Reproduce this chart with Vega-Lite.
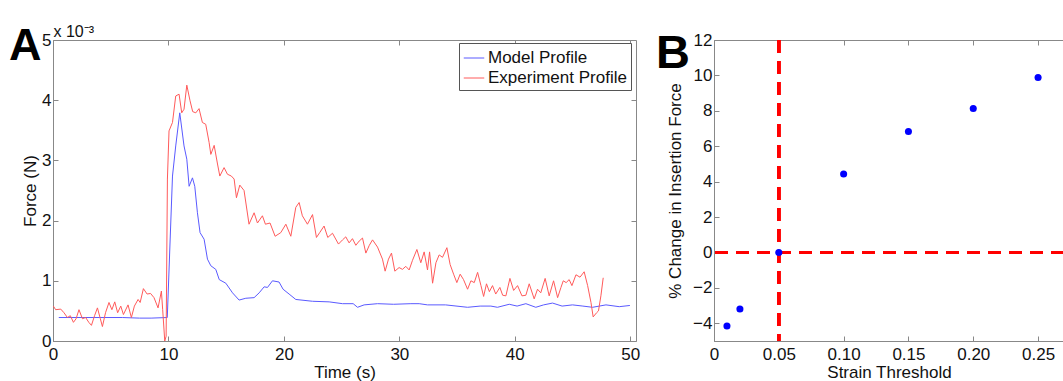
{
  "$schema": "https://vega.github.io/schema/vega-lite/v6.json",
  "background": "white",
  "padding": {"left": 8, "top": 22, "right": 0, "bottom": 0},
  "bounds": "flush",
  "spacing": 78,
  "config": {
    "font": "Liberation Sans",
    "view": {"stroke": "#888", "strokeWidth": 1},
    "axis": {
      "grid": false,
      "labelFont": "Liberation Sans",
      "labelFontSize": 17,
      "labelColor": "#111",
      "labelFlush": false,
      "labelOverlap": false,
      "titleFont": "Liberation Sans",
      "titleFontSize": 17,
      "titleFontWeight": "normal",
      "titleColor": "#111",
      "domainColor": "#888",
      "tickColor": "#888",
      "tickSize": -5
    },
    "axisX": {"labelPadding": 10},
    "axisY": {"labelPadding": 7},
    "title": {"font": "Liberation Sans", "color": "#000"}
  },
  "datasets": {
    "force": [
      {"t": 0.5, "F": 0.39, "series": "Model Profile"},
      {"t": 2, "F": 0.39, "series": "Model Profile"},
      {"t": 4, "F": 0.39, "series": "Model Profile"},
      {"t": 6, "F": 0.39, "series": "Model Profile"},
      {"t": 7.5, "F": 0.38, "series": "Model Profile"},
      {"t": 8.5, "F": 0.38, "series": "Model Profile"},
      {"t": 9.9, "F": 0.39, "series": "Model Profile"},
      {"t": 10.35, "F": 2.74, "series": "Model Profile"},
      {"t": 10.63, "F": 3.24, "series": "Model Profile"},
      {"t": 10.98, "F": 3.79, "series": "Model Profile"},
      {"t": 11.35, "F": 3.24, "series": "Model Profile"},
      {"t": 11.59, "F": 3.02, "series": "Model Profile"},
      {"t": 11.79, "F": 2.57, "series": "Model Profile"},
      {"t": 12.08, "F": 2.71, "series": "Model Profile"},
      {"t": 12.28, "F": 2.57, "series": "Model Profile"},
      {"t": 12.51, "F": 2.13, "series": "Model Profile"},
      {"t": 12.74, "F": 1.8, "series": "Model Profile"},
      {"t": 13.09, "F": 1.69, "series": "Model Profile"},
      {"t": 13.38, "F": 1.36, "series": "Model Profile"},
      {"t": 13.67, "F": 1.25, "series": "Model Profile"},
      {"t": 14.1, "F": 1.19, "series": "Model Profile"},
      {"t": 14.4, "F": 1.02, "series": "Model Profile"},
      {"t": 14.97, "F": 0.96, "series": "Model Profile"},
      {"t": 15.55, "F": 0.8, "series": "Model Profile"},
      {"t": 16.12, "F": 0.68, "series": "Model Profile"},
      {"t": 16.7, "F": 0.71, "series": "Model Profile"},
      {"t": 17.42, "F": 0.72, "series": "Model Profile"},
      {"t": 17.86, "F": 0.8, "series": "Model Profile"},
      {"t": 18.29, "F": 0.9, "series": "Model Profile"},
      {"t": 18.58, "F": 0.89, "series": "Model Profile"},
      {"t": 19.01, "F": 1.0, "series": "Model Profile"},
      {"t": 19.58, "F": 0.98, "series": "Model Profile"},
      {"t": 19.93, "F": 0.86, "series": "Model Profile"},
      {"t": 20.45, "F": 0.78, "series": "Model Profile"},
      {"t": 21.03, "F": 0.69, "series": "Model Profile"},
      {"t": 22.48, "F": 0.66, "series": "Model Profile"},
      {"t": 23.92, "F": 0.65, "series": "Model Profile"},
      {"t": 25.08, "F": 0.62, "series": "Model Profile"},
      {"t": 26.0, "F": 0.62, "series": "Model Profile"},
      {"t": 26.38, "F": 0.56, "series": "Model Profile"},
      {"t": 26.95, "F": 0.6, "series": "Model Profile"},
      {"t": 28.11, "F": 0.62, "series": "Model Profile"},
      {"t": 29.5, "F": 0.61, "series": "Model Profile"},
      {"t": 31.0, "F": 0.62, "series": "Model Profile"},
      {"t": 31.72, "F": 0.62, "series": "Model Profile"},
      {"t": 32.44, "F": 0.6, "series": "Model Profile"},
      {"t": 34.0, "F": 0.6, "series": "Model Profile"},
      {"t": 35.91, "F": 0.56, "series": "Model Profile"},
      {"t": 37.0, "F": 0.58, "series": "Model Profile"},
      {"t": 37.93, "F": 0.58, "series": "Model Profile"},
      {"t": 38.5, "F": 0.56, "series": "Model Profile"},
      {"t": 39.52, "F": 0.61, "series": "Model Profile"},
      {"t": 40.2, "F": 0.58, "series": "Model Profile"},
      {"t": 40.96, "F": 0.62, "series": "Model Profile"},
      {"t": 41.82, "F": 0.56, "series": "Model Profile"},
      {"t": 42.5, "F": 0.6, "series": "Model Profile"},
      {"t": 43.27, "F": 0.63, "series": "Model Profile"},
      {"t": 44.1, "F": 0.58, "series": "Model Profile"},
      {"t": 45.0, "F": 0.6, "series": "Model Profile"},
      {"t": 45.9, "F": 0.58, "series": "Model Profile"},
      {"t": 46.74, "F": 0.56, "series": "Model Profile"},
      {"t": 47.9, "F": 0.6, "series": "Model Profile"},
      {"t": 49.05, "F": 0.57, "series": "Model Profile"},
      {"t": 49.97, "F": 0.59, "series": "Model Profile"},

      {"t": 0.03, "F": 0.58, "series": "Experiment Profile"},
      {"t": 0.23, "F": 0.52, "series": "Experiment Profile"},
      {"t": 0.67, "F": 0.53, "series": "Experiment Profile"},
      {"t": 0.95, "F": 0.47, "series": "Experiment Profile"},
      {"t": 1.25, "F": 0.39, "series": "Experiment Profile"},
      {"t": 1.5, "F": 0.42, "series": "Experiment Profile"},
      {"t": 1.77, "F": 0.31, "series": "Experiment Profile"},
      {"t": 2.0, "F": 0.37, "series": "Experiment Profile"},
      {"t": 2.25, "F": 0.52, "series": "Experiment Profile"},
      {"t": 2.55, "F": 0.37, "series": "Experiment Profile"},
      {"t": 2.83, "F": 0.39, "series": "Experiment Profile"},
      {"t": 3.1, "F": 0.31, "series": "Experiment Profile"},
      {"t": 3.33, "F": 0.26, "series": "Experiment Profile"},
      {"t": 3.6, "F": 0.42, "series": "Experiment Profile"},
      {"t": 3.85, "F": 0.55, "series": "Experiment Profile"},
      {"t": 4.1, "F": 0.37, "series": "Experiment Profile"},
      {"t": 4.28, "F": 0.24, "series": "Experiment Profile"},
      {"t": 4.55, "F": 0.47, "series": "Experiment Profile"},
      {"t": 4.85, "F": 0.64, "series": "Experiment Profile"},
      {"t": 5.1, "F": 0.52, "series": "Experiment Profile"},
      {"t": 5.35, "F": 0.65, "series": "Experiment Profile"},
      {"t": 5.6, "F": 0.47, "series": "Experiment Profile"},
      {"t": 5.87, "F": 0.58, "series": "Experiment Profile"},
      {"t": 6.1, "F": 0.44, "series": "Experiment Profile"},
      {"t": 6.5, "F": 0.6, "series": "Experiment Profile"},
      {"t": 6.79, "F": 0.39, "series": "Experiment Profile"},
      {"t": 7.05, "F": 0.58, "series": "Experiment Profile"},
      {"t": 7.37, "F": 0.69, "series": "Experiment Profile"},
      {"t": 7.55, "F": 0.64, "series": "Experiment Profile"},
      {"t": 7.83, "F": 0.87, "series": "Experiment Profile"},
      {"t": 8.15, "F": 0.78, "series": "Experiment Profile"},
      {"t": 8.45, "F": 0.79, "series": "Experiment Profile"},
      {"t": 8.75, "F": 0.72, "series": "Experiment Profile"},
      {"t": 9.1, "F": 0.55, "series": "Experiment Profile"},
      {"t": 9.39, "F": 0.83, "series": "Experiment Profile"},
      {"t": 9.5, "F": 0.52, "series": "Experiment Profile"},
      {"t": 9.68, "F": 0.0, "series": "Experiment Profile"},
      {"t": 9.8, "F": 0.08, "series": "Experiment Profile"},
      {"t": 9.91, "F": 2.69, "series": "Experiment Profile"},
      {"t": 10.05, "F": 3.49, "series": "Experiment Profile"},
      {"t": 10.35, "F": 3.63, "series": "Experiment Profile"},
      {"t": 10.63, "F": 4.07, "series": "Experiment Profile"},
      {"t": 10.92, "F": 4.1, "series": "Experiment Profile"},
      {"t": 11.15, "F": 3.79, "series": "Experiment Profile"},
      {"t": 11.35, "F": 3.85, "series": "Experiment Profile"},
      {"t": 11.59, "F": 4.25, "series": "Experiment Profile"},
      {"t": 11.87, "F": 3.99, "series": "Experiment Profile"},
      {"t": 12.1, "F": 3.81, "series": "Experiment Profile"},
      {"t": 12.37, "F": 3.79, "series": "Experiment Profile"},
      {"t": 12.65, "F": 3.86, "series": "Experiment Profile"},
      {"t": 12.94, "F": 3.63, "series": "Experiment Profile"},
      {"t": 13.23, "F": 3.6, "series": "Experiment Profile"},
      {"t": 13.52, "F": 3.3, "series": "Experiment Profile"},
      {"t": 13.67, "F": 3.1, "series": "Experiment Profile"},
      {"t": 13.96, "F": 3.25, "series": "Experiment Profile"},
      {"t": 14.25, "F": 2.94, "series": "Experiment Profile"},
      {"t": 14.45, "F": 2.74, "series": "Experiment Profile"},
      {"t": 14.82, "F": 2.88, "series": "Experiment Profile"},
      {"t": 15.11, "F": 2.77, "series": "Experiment Profile"},
      {"t": 15.45, "F": 2.74, "series": "Experiment Profile"},
      {"t": 15.69, "F": 2.69, "series": "Experiment Profile"},
      {"t": 15.89, "F": 2.38, "series": "Experiment Profile"},
      {"t": 16.18, "F": 2.59, "series": "Experiment Profile"},
      {"t": 16.55, "F": 2.5, "series": "Experiment Profile"},
      {"t": 16.98, "F": 1.94, "series": "Experiment Profile"},
      {"t": 17.42, "F": 2.13, "series": "Experiment Profile"},
      {"t": 17.71, "F": 1.96, "series": "Experiment Profile"},
      {"t": 18.14, "F": 2.08, "series": "Experiment Profile"},
      {"t": 18.4, "F": 1.94, "series": "Experiment Profile"},
      {"t": 18.8, "F": 1.96, "series": "Experiment Profile"},
      {"t": 19.24, "F": 1.74, "series": "Experiment Profile"},
      {"t": 19.73, "F": 1.8, "series": "Experiment Profile"},
      {"t": 20.17, "F": 1.94, "series": "Experiment Profile"},
      {"t": 20.6, "F": 1.74, "series": "Experiment Profile"},
      {"t": 21.03, "F": 2.22, "series": "Experiment Profile"},
      {"t": 21.32, "F": 2.3, "series": "Experiment Profile"},
      {"t": 21.6, "F": 2.08, "series": "Experiment Profile"},
      {"t": 22.04, "F": 1.94, "series": "Experiment Profile"},
      {"t": 22.48, "F": 2.1, "series": "Experiment Profile"},
      {"t": 22.82, "F": 1.72, "series": "Experiment Profile"},
      {"t": 23.1, "F": 1.8, "series": "Experiment Profile"},
      {"t": 23.48, "F": 1.91, "series": "Experiment Profile"},
      {"t": 23.8, "F": 1.72, "series": "Experiment Profile"},
      {"t": 24.21, "F": 1.79, "series": "Experiment Profile"},
      {"t": 24.73, "F": 1.61, "series": "Experiment Profile"},
      {"t": 25.08, "F": 1.68, "series": "Experiment Profile"},
      {"t": 25.36, "F": 1.73, "series": "Experiment Profile"},
      {"t": 25.65, "F": 1.63, "series": "Experiment Profile"},
      {"t": 25.94, "F": 1.7, "series": "Experiment Profile"},
      {"t": 26.23, "F": 1.59, "series": "Experiment Profile"},
      {"t": 26.52, "F": 1.66, "series": "Experiment Profile"},
      {"t": 26.81, "F": 1.71, "series": "Experiment Profile"},
      {"t": 27.1, "F": 1.46, "series": "Experiment Profile"},
      {"t": 27.4, "F": 1.59, "series": "Experiment Profile"},
      {"t": 27.68, "F": 1.68, "series": "Experiment Profile"},
      {"t": 28.11, "F": 1.56, "series": "Experiment Profile"},
      {"t": 28.54, "F": 1.36, "series": "Experiment Profile"},
      {"t": 28.77, "F": 1.16, "series": "Experiment Profile"},
      {"t": 29.06, "F": 1.36, "series": "Experiment Profile"},
      {"t": 29.32, "F": 1.46, "series": "Experiment Profile"},
      {"t": 29.61, "F": 1.16, "series": "Experiment Profile"},
      {"t": 29.98, "F": 1.22, "series": "Experiment Profile"},
      {"t": 30.27, "F": 1.19, "series": "Experiment Profile"},
      {"t": 30.56, "F": 1.24, "series": "Experiment Profile"},
      {"t": 30.85, "F": 1.18, "series": "Experiment Profile"},
      {"t": 31.14, "F": 1.34, "series": "Experiment Profile"},
      {"t": 31.52, "F": 1.52, "series": "Experiment Profile"},
      {"t": 31.86, "F": 1.3, "series": "Experiment Profile"},
      {"t": 32.15, "F": 1.48, "series": "Experiment Profile"},
      {"t": 32.44, "F": 1.18, "series": "Experiment Profile"},
      {"t": 32.62, "F": 1.48, "series": "Experiment Profile"},
      {"t": 32.88, "F": 0.96, "series": "Experiment Profile"},
      {"t": 33.17, "F": 1.3, "series": "Experiment Profile"},
      {"t": 33.45, "F": 1.43, "series": "Experiment Profile"},
      {"t": 33.74, "F": 1.39, "series": "Experiment Profile"},
      {"t": 34.12, "F": 1.55, "series": "Experiment Profile"},
      {"t": 34.4, "F": 1.27, "series": "Experiment Profile"},
      {"t": 34.7, "F": 1.11, "series": "Experiment Profile"},
      {"t": 34.98, "F": 0.97, "series": "Experiment Profile"},
      {"t": 35.27, "F": 1.11, "series": "Experiment Profile"},
      {"t": 35.56, "F": 1.02, "series": "Experiment Profile"},
      {"t": 35.91, "F": 0.86, "series": "Experiment Profile"},
      {"t": 36.2, "F": 1.0, "series": "Experiment Profile"},
      {"t": 36.49, "F": 0.97, "series": "Experiment Profile"},
      {"t": 36.78, "F": 1.14, "series": "Experiment Profile"},
      {"t": 37.07, "F": 0.92, "series": "Experiment Profile"},
      {"t": 37.3, "F": 0.74, "series": "Experiment Profile"},
      {"t": 37.55, "F": 0.95, "series": "Experiment Profile"},
      {"t": 37.8, "F": 0.82, "series": "Experiment Profile"},
      {"t": 38.07, "F": 0.92, "series": "Experiment Profile"},
      {"t": 38.35, "F": 0.78, "series": "Experiment Profile"},
      {"t": 38.71, "F": 0.89, "series": "Experiment Profile"},
      {"t": 38.95, "F": 0.76, "series": "Experiment Profile"},
      {"t": 39.23, "F": 0.75, "series": "Experiment Profile"},
      {"t": 39.58, "F": 1.04, "series": "Experiment Profile"},
      {"t": 39.9, "F": 0.84, "series": "Experiment Profile"},
      {"t": 40.24, "F": 0.92, "series": "Experiment Profile"},
      {"t": 40.62, "F": 0.75, "series": "Experiment Profile"},
      {"t": 40.96, "F": 0.76, "series": "Experiment Profile"},
      {"t": 41.25, "F": 0.95, "series": "Experiment Profile"},
      {"t": 41.68, "F": 0.7, "series": "Experiment Profile"},
      {"t": 41.97, "F": 0.86, "series": "Experiment Profile"},
      {"t": 42.25, "F": 0.8, "series": "Experiment Profile"},
      {"t": 42.63, "F": 1.04, "series": "Experiment Profile"},
      {"t": 42.98, "F": 0.75, "series": "Experiment Profile"},
      {"t": 43.36, "F": 1.0, "series": "Experiment Profile"},
      {"t": 43.71, "F": 0.72, "series": "Experiment Profile"},
      {"t": 44.0, "F": 0.89, "series": "Experiment Profile"},
      {"t": 44.2, "F": 1.0, "series": "Experiment Profile"},
      {"t": 44.45, "F": 0.97, "series": "Experiment Profile"},
      {"t": 44.71, "F": 1.02, "series": "Experiment Profile"},
      {"t": 44.95, "F": 0.92, "series": "Experiment Profile"},
      {"t": 45.3, "F": 1.1, "series": "Experiment Profile"},
      {"t": 45.65, "F": 1.06, "series": "Experiment Profile"},
      {"t": 46.01, "F": 1.15, "series": "Experiment Profile"},
      {"t": 46.31, "F": 0.92, "series": "Experiment Profile"},
      {"t": 46.6, "F": 0.64, "series": "Experiment Profile"},
      {"t": 46.79, "F": 0.4, "series": "Experiment Profile"},
      {"t": 47.09, "F": 0.47, "series": "Experiment Profile"},
      {"t": 47.25, "F": 0.5, "series": "Experiment Profile"},
      {"t": 47.46, "F": 0.75, "series": "Experiment Profile"},
      {"t": 47.66, "F": 1.05, "series": "Experiment Profile"}
    ],
    "strain": [
      {"threshold": 0.01, "change": -4.15},
      {"threshold": 0.02, "change": -3.19},
      {"threshold": 0.05, "change": 0},
      {"threshold": 0.1, "change": 4.43},
      {"threshold": 0.15, "change": 6.83},
      {"threshold": 0.2, "change": 8.13},
      {"threshold": 0.25, "change": 9.88}
    ]
  },
  "hconcat": [
    {
      "width": 583,
      "height": 301,
      "title": {"text": "A", "anchor": "start", "frame": "group", "fontSize": 45, "fontWeight": "bold", "dx": -44, "dy": 50},
      "data": {"name": "force"},
      "layer": [
        {
          "transform": [{"filter": "datum.series === 'Model Profile'"}],
          "mark": {"type": "line", "strokeWidth": 1, "interpolate": "linear"},
          "encoding": {
            "x": {"field": "t", "type": "quantitative", "title": "Time (s)",
                  "scale": {"domain": [0, 50.5], "nice": false, "zero": false},
                  "axis": {"values": [0, 10, 20, 30, 40, 50], "titlePadding": 2}},
            "y": {"field": "F", "type": "quantitative", "title": "Force (N)",
                  "scale": {"domain": [0, 5], "nice": false},
                  "axis": {"values": [0, 1, 2, 3, 4, 5], "titlePadding": 2}},
            "color": {"field": "series", "type": "nominal",
                      "scale": {"domain": ["Model Profile", "Experiment Profile"], "range": ["#5a5aff", "#ff5a5a"]},
                      "legend": {"title": null, "orient": "none", "legendX": 406, "legendY": 3, "strokeColor": "#555", "fillColor": "white",
                                 "padding": 4, "labelFontSize": 17, "labelColor": "#111", "labelFont": "Liberation Sans",
                                 "symbolType": "stroke", "symbolSize": 420, "symbolStrokeWidth": 1, "rowPadding": 1, "labelOffset": 3}}
          }
        },
        {
          "transform": [{"filter": "datum.series === 'Experiment Profile'"}],
          "mark": {"type": "line", "strokeWidth": 1, "interpolate": "linear"},
          "encoding": {
            "x": {"field": "t", "type": "quantitative",
                  "scale": {"domain": [0, 50.5], "nice": false, "zero": false},
                  "axis": {"orient": "top", "values": [10, 20, 30, 40, 50], "labels": false, "domain": false,
                           "title": "x 10⁻³", "titleAnchor": "start", "titleAlign": "left", "titleX": 0, "titleY": -4,
                           "titleBaseline": "alphabetic", "titleFontSize": 16}},
            "y": {"field": "F", "type": "quantitative",
                  "scale": {"domain": [0, 5], "nice": false},
                  "axis": {"orient": "right", "values": [1, 2, 3, 4], "labels": false, "domain": false, "title": null}},
            "color": {"field": "series", "type": "nominal"}
          }
        }
      ],
      "resolve": {"axis": {"x": "independent", "y": "independent"}}
    },
    {
      "width": 350,
      "height": 301,
      "title": {"text": "B", "anchor": "start", "frame": "group", "fontSize": 47, "fontWeight": "bold", "dx": -58, "dy": 51},
      "data": {"name": "strain"},
      "layer": [
        {
          "mark": {"type": "rule", "color": "#ff0000", "strokeWidth": 3, "strokeDash": [13, 8]},
          "encoding": {
            "x": {"datum": 0.05, "type": "quantitative",
                  "scale": {"domain": [0, 0.27], "nice": false, "zero": false},
                  "axis": {"orient": "top", "values": [0.05, 0.1, 0.15, 0.2, 0.25], "labels": false, "domain": false, "title": null}}
          }
        },
        {
          "mark": {"type": "rule", "color": "#ff0000", "strokeWidth": 3, "strokeDash": [13, 8]},
          "encoding": {
            "y": {"datum": 0, "type": "quantitative",
                  "scale": {"domain": [-5, 12], "nice": false, "zero": false},
                  "axis": null}
          }
        },
        {
          "mark": {"type": "circle", "color": "#0000ff", "opacity": 1, "size": 50},
          "encoding": {
            "x": {"field": "threshold", "type": "quantitative", "title": "Strain Threshold",
                  "scale": {"domain": [0, 0.27], "nice": false, "zero": false},
                  "axis": {"values": [0, 0.05, 0.1, 0.15, 0.2, 0.25], "titlePadding": 2,
                           "labelExpr": "datum.value === 0 ? '0' : format(datum.value, '.2f')"}},
            "y": {"field": "change", "type": "quantitative", "title": "% Change in Insertion Force",
                  "scale": {"domain": [-5, 12], "nice": false, "zero": false},
                  "axis": {"values": [-4, -2, 0, 2, 4, 6, 8, 10, 12], "titlePadding": 8}}
          }
        }
      ],
      "resolve": {"axis": {"x": "independent", "y": "independent"}}
    }
  ]
}
